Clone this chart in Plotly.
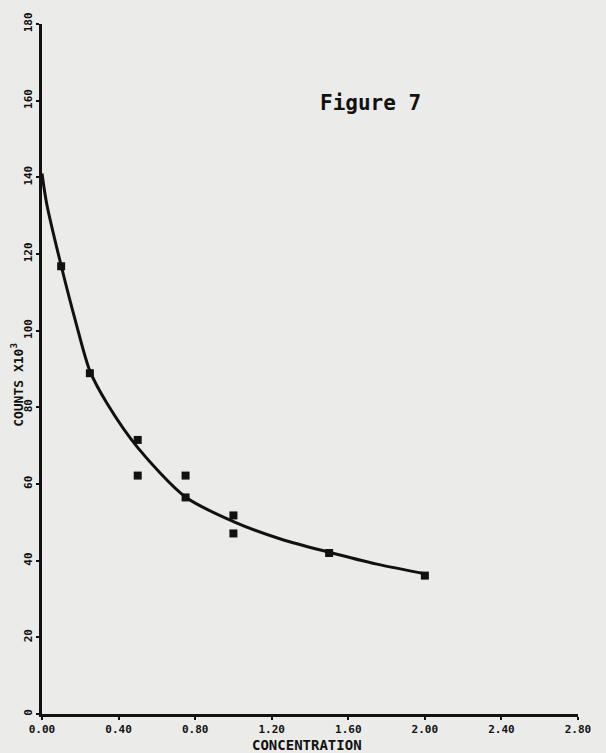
import plotly.graph_objects as go

# Data points (concentration, counts x10^3)
conc = [0.1, 0.25, 0.5, 0.5, 0.75, 0.75, 1.0, 1.0, 1.5, 2.0]
counts = [116.8, 88.9, 71.5, 62.2, 62.2, 56.5, 51.8, 47.1, 42.0, 36.1]

# Fitted curve samples
curve_x = [0.0, 0.025, 0.1, 0.175, 0.25, 0.34, 0.5, 0.75, 1.0, 1.25, 1.5, 1.75, 2.0]
curve_y = [141.0, 133.0, 117.0, 102.5, 89.5, 81.0, 69.5, 56.6, 50.2, 45.6, 42.2, 39.1, 36.6]

x_ticks = [0.0, 0.4, 0.8, 1.2, 1.6, 2.0, 2.4, 2.8]
x_tick_labels = ["0.00", "0.40", "0.80", "1.20", "1.60", "2.00", "2.40", "2.80"]
y_ticks = [0, 20, 40, 60, 80, 100, 120, 140, 160, 180]
y_tick_labels = ["0", "20", "40", "60", "80", "100", "120", "140", "160", "180"]

FONT = "DejaVu Sans Mono"
INK = "#111111"

W, H = 606, 753
L, R, T, B = 42, 28, 18, 39
PW, PH = W - L - R, H - T - B


def px2paper(px, py):
    return (px - L) / PW, 1 - (py - T) / PH


fig = go.Figure()
fig.add_trace(go.Scatter(x=curve_x, y=curve_y, mode="lines",
                         line=dict(color=INK, width=3, shape="spline", smoothing=0.8),
                         hoverinfo="skip", showlegend=False))
fig.add_trace(go.Scatter(x=conc, y=counts, mode="markers",
                         marker=dict(symbol="square", size=8, color=INK),
                         showlegend=False))

ann = []
for text, px, py, size, angle in [
    ("<b>Figure 7</b>", 370, 98, 21, 0),
    ("<b>CONCENTRATION</b>", 307, 745, 14, 0),
    ("<b>COUNTS X10<sup>3</sup></b>", 17, 382, 13, -90),
]:
    ax, ay = px2paper(px, py)
    ann.append(dict(text=text, x=ax, y=ay, xref="paper", yref="paper",
                    xanchor="center", yanchor="middle", showarrow=False,
                    textangle=angle, font=dict(size=size, family=FONT, color=INK)))

fig.update_layout(
    width=W, height=H,
    margin=dict(l=L, r=R, t=T, b=B),
    paper_bgcolor="#ebebea", plot_bgcolor="#ebebea",
    font=dict(family=FONT, color=INK, size=11),
    showlegend=False,
    annotations=ann,
)

fig.update_xaxes(range=[0, 2.8], tickvals=x_ticks, ticktext=["<b>%s</b>" % s for s in x_tick_labels],
                 showgrid=False, zeroline=False, showline=True, linecolor=INK, linewidth=2.5,
                 ticks="outside", ticklen=3, tickwidth=2, tickcolor=INK,
                 tickfont=dict(size=11, family=FONT, color=INK))
fig.update_yaxes(range=[0, 180], tickvals=y_ticks, ticktext=["<b>%s</b>" % s for s in y_tick_labels],
                 showgrid=False, zeroline=False, showline=True, linecolor=INK, linewidth=2.5,
                 ticks="outside", ticklen=3, tickwidth=2, tickcolor=INK, tickangle=-90,
                 tickfont=dict(size=11, family=FONT, color=INK))

fig.write_html("out.html")
